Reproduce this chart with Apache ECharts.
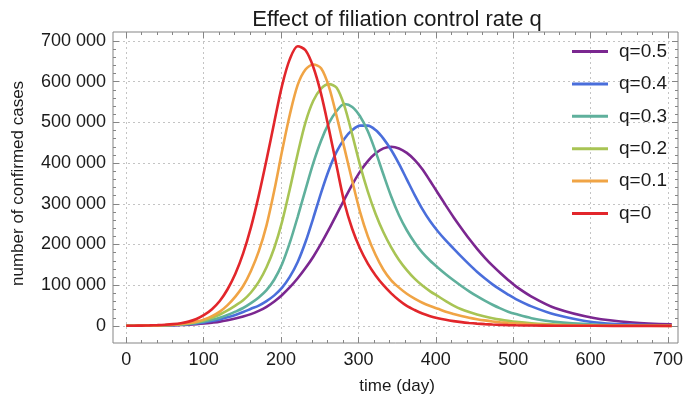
<!DOCTYPE html>
<html>
<head>
<meta charset="utf-8">
<script src="https://cdn.jsdelivr.net/npm/echarts@6/dist/echarts.min.js"></script>
<style>
  html, body { margin: 0; padding: 0; background: #fff; }
  #chart { width: 686px; height: 400px; }
</style>
</head>
<body>
<div id="chart"></div>
<script>
// days sampled every 10 days up to 500, then coarser
const days = [0,10,20,30,40,50,60,70,80,90,100,110,120,130,140,150,160,170,180,190,200,210,220,230,240,250,260,270,280,290,300,310,320,330,340,350,360,370,380,390,400,410,420,430,440,450,460,470,480,490,500,520,550,600,650,700];

// confirmed cases (thousands), one value per day above
const q0 = [0.3,0.5,0.8,1.2,1.8,2.8,4.3,6.7,10.5,17,27,41,61,90,128,178,242,320,408,501,591,656,687,677,636,570,484,392,302,238,190,153,124,100,80,63,49,39,30.5,24,19,15,11.8,9.2,7.2,5.6,4.3,3.3,2.6,2,1.5,0.9,0.5,0.2,0.1,0.05];
const q1 = [0.3,0.5,0.7,1,1.4,2.1,3.1,4.6,7,10.5,16,24,35,51,72,98,135,183,247,333,430,520,592,630,642,633,588,515,436,356,280,220,174,138,112,94,79,67,57,49,42,35,29.5,24.5,20,16.5,13.5,11,9,7.3,6,4,2.2,0.8,0.3,0.1];
const q2 = [0.3,0.4,0.6,0.9,1.3,1.9,2.8,4.2,6.3,9.5,14,20,28,38,50,63,82,108,144,192,256,337,423,500,553,583,594,585,540,470,395,330,275,230,193,162,137,116,99,85,73,61,50,41,34,28,23,19,15.5,12.5,10,6.6,3.5,1.3,0.5,0.2];
const q3 = [0.3,0.4,0.5,0.8,1.1,1.6,2.3,3.4,5,7.5,11,15,20,27,35,44,56,70,88,114,152,205,268,335,400,455,498,528,545,538,515,478,428,372,318,272,235,205,180,160,143,127,112,98,85,73,62,52,43,35,29,19,10,3.6,1.4,0.5];
const q4 = [0.3,0.4,0.5,0.7,1,1.4,2,2.9,4.2,6,8.5,12,16,21,27,34,42,50,61,75,94,121,157,206,265,327,383,428,460,481,492,492,481,460,432,398,360,322,287,257,232,210,190,170,151,133,117,102,89,77,66,48,28,9,3.2,1.2];
const q5 = [0.3,0.35,0.45,0.6,0.8,1.1,1.5,2.1,3,4.2,5.8,8,10.5,14,18,23,29,37,47,60,76,95,117,142,170,202,237,274,311,347,379,405,424,436,440,436,425,408,385,356,326,296,267,240,214,190,168,148,130,113,97,72,44,19.5,8.5,4];

const seriesNames = ['q=0.5', 'q=0.4', 'q=0.3', 'q=0.2', 'q=0.1', 'q=0'];
const seriesData = [q5, q4, q3, q2, q1, q0];
const seriesColors = ['#7b2790', '#4a6edb', '#5fb09c', '#a8c454', '#f0a445', '#e2262b'];

const dayTicks = [0, 700];       // first and last labelled day
const caseTicks = [0, 700000];   // first and last labelled case count
const dayRange = [-17, 708];
const caseRange = [-42000, 722000];

// plot frame in pixels
const L = 113, T = 32, W = 565, H = 311;
const px = d => L + (d - dayRange[0]) / (dayRange[1] - dayRange[0]) * W;
const py = v => T + (caseRange[1] - v) / (caseRange[1] - caseRange[0]) * H;

const frameColor = '#858585';
const textColor = '#1a1a1a';
const font = 'Liberation Sans';
const gridLine = { show: true, lineStyle: { color: '#c4c4c4', type: [2, 3], width: 1 } };

var myChart = echarts.init(document.getElementById('chart'));

const option = {
    animation: false,
    backgroundColor: '#fff',
    textStyle: { fontFamily: font },
    title: {
        text: 'Effect of filiation control rate q',
        left: 392, top: 4, textAlign: 'center',
        textStyle: { fontSize: 22, fontWeight: 'normal', color: textColor, fontFamily: font }
    },
    legend: {
        orient: 'vertical',
        left: 572, top: 42, padding: 0,
        icon: 'rect', itemWidth: 36, itemHeight: 3, itemGap: 13.4,
        textStyle: { fontSize: 19, lineHeight: 18, color: textColor, fontFamily: font, padding: [0, 0, 0, 6] }
    },
    grid: [
        // data grid, its border is the frame
        { left: L, top: T, width: W, height: H, show: true, borderColor: frameColor, borderWidth: 1, backgroundColor: 'transparent' },
        // day ticks: 0..700 only
        { left: px(dayTicks[0]), top: T, width: px(dayTicks[1]) - px(dayTicks[0]), height: H },
        // case ticks: 0..700000 only
        { left: L, top: py(caseTicks[1]), width: W, height: py(caseTicks[0]) - py(caseTicks[1]) }
    ],
    xAxis: [
        { type: 'value', gridIndex: 0, min: dayRange[0], max: dayRange[1], show: false },
        {
            type: 'value', gridIndex: 1, position: 'bottom', min: dayTicks[0], max: dayTicks[1], interval: 100,
            axisLine: { show: false, onZero: false },
            axisTick: { inside: true, length: 6, lineStyle: { color: frameColor } },
            minorTick: { show: true, splitNumber: 5, length: 3, lineStyle: { color: frameColor } },
            axisLabel: { fontSize: 18, color: textColor, margin: 8, fontFamily: font },
            splitLine: gridLine,
            name: 'time (day)', nameLocation: 'middle', nameGap: 35,
            nameTextStyle: { fontSize: 17, color: textColor, fontFamily: font }
        },
        {
            type: 'value', gridIndex: 1, position: 'top', min: dayTicks[0], max: dayTicks[1], interval: 100,
            axisLine: { show: false, onZero: false },
            axisTick: { inside: true, length: 6, lineStyle: { color: frameColor } },
            minorTick: { show: true, splitNumber: 5, length: 3, lineStyle: { color: frameColor } },
            axisLabel: { show: false }, splitLine: { show: false }
        },
        { type: 'value', gridIndex: 2, show: false }
    ],
    yAxis: [
        { type: 'value', gridIndex: 0, min: caseRange[0], max: caseRange[1], show: false },
        { type: 'value', gridIndex: 1, min: 0, max: 1, show: false },
        {
            type: 'value', gridIndex: 2, position: 'left', min: caseTicks[0], max: caseTicks[1], interval: 100000,
            axisLine: { show: false, onZero: false },
            axisTick: { inside: true, length: 6, lineStyle: { color: frameColor } },
            minorTick: { show: true, splitNumber: 5, length: 3, lineStyle: { color: frameColor } },
            axisLabel: {
                fontSize: 18, color: textColor, margin: 7, fontFamily: font,
                formatter: v => v === 0 ? '0' : (v / 1000) + ' 000'
            },
            splitLine: gridLine,
            name: 'number of confirmed cases', nameLocation: 'middle', nameGap: 86,
            nameTextStyle: { fontSize: 17, color: textColor, fontFamily: font }
        },
        {
            type: 'value', gridIndex: 2, position: 'right', min: caseTicks[0], max: caseTicks[1], interval: 100000,
            axisLine: { show: false, onZero: false },
            axisTick: { inside: true, length: 6, lineStyle: { color: frameColor } },
            minorTick: { show: true, splitNumber: 5, length: 3, lineStyle: { color: frameColor } },
            axisLabel: { show: false }, splitLine: { show: false }
        }
    ],
    series: seriesNames.map((name, i) => ({
        name: name,
        type: 'line',
        xAxisIndex: 0, yAxisIndex: 0,
        data: days.map((d, j) => [d, seriesData[i][j] * 1000]),
        showSymbol: false,
        smooth: 0.3,
        color: seriesColors[i],
        lineStyle: { width: 2.6, color: seriesColors[i] }
    }))
};

myChart.setOption(option);
</script>
</body>
</html>
